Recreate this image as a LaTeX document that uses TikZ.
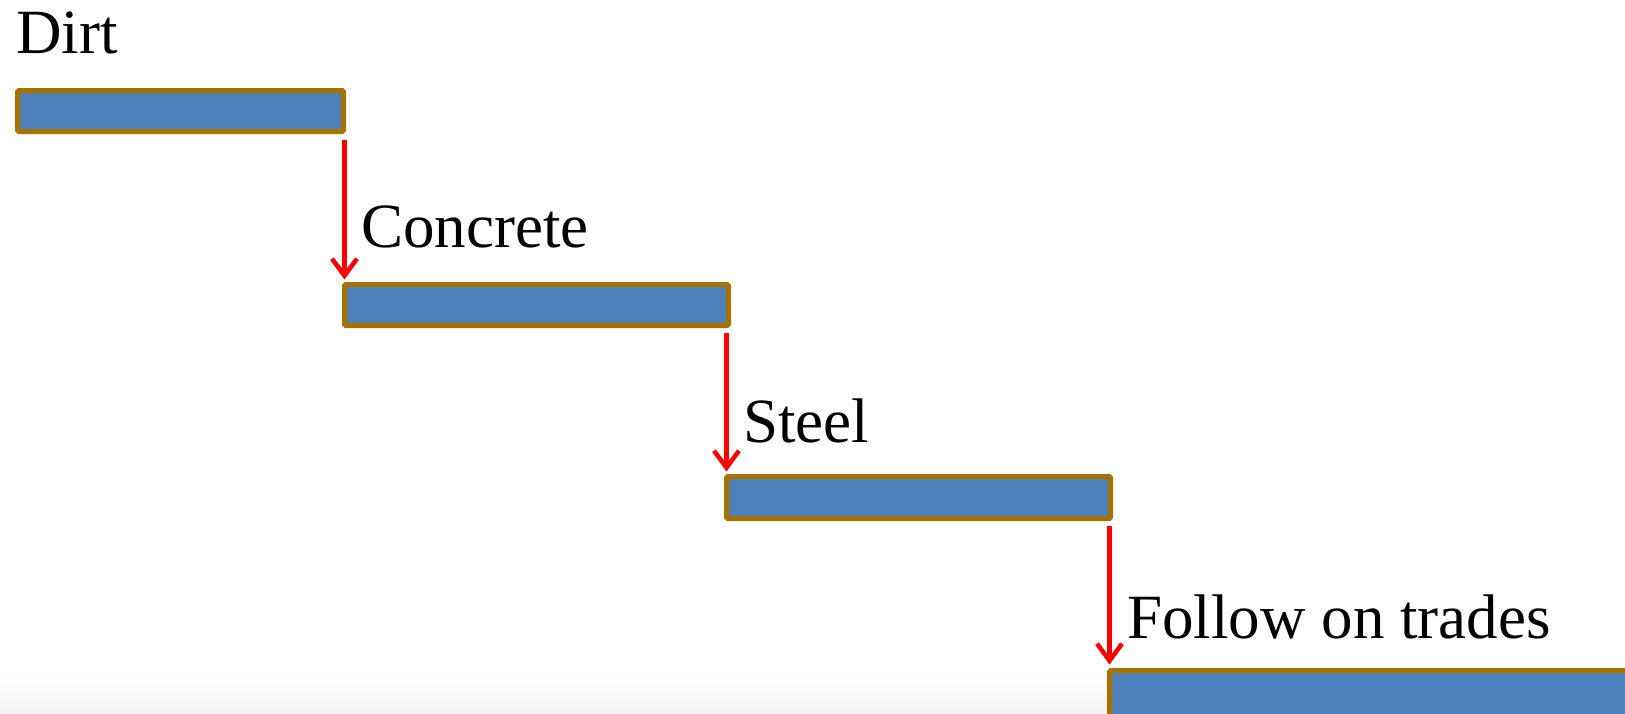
\documentclass[tikz,border=0pt]{standalone}
\usepackage{fontspec}
\setmainfont{Liberation Serif}
\usetikzlibrary{arrows.meta}
\definecolor{barblue}{RGB}{79,129,189}
\definecolor{bargold}{RGB}{168,114,0}
\definecolor{arrred}{RGB}{255,0,0}
\begin{document}
\begin{tikzpicture}[x=1pt,y=1pt,
  taskbar/.style={draw=bargold, fill=barblue, line width=5pt, rounded corners=1.5pt,
    rectangle, outer sep=0pt, inner sep=0pt, anchor=north west},
  tasklabel/.style={anchor=base west, inner sep=0pt, text=black,
    font=\fontsize{63}{72}\selectfont},
  link/.style={draw=arrred, line width=4.5pt,
    -{Straight Barb[length=17pt,width=25pt,line width=4.5pt]}}]
  \useasboundingbox (0,0) rectangle (1625,-713);
  \clip (0,0) rectangle (1625,-713);
  % faint shading along the lower edge
  \shade[top color=white, bottom color=black!5] (0,-676) rectangle (1625,-713);

  % schedule bars
  \node[taskbar, minimum width=326pt, minimum height=41pt] (dirt) at (17.5,-90.5) {};
  \node[taskbar, minimum width=384pt, minimum height=41pt] (conc) at (344.5,-284.5) {};
  \node[taskbar, minimum width=384pt, minimum height=42pt] (steel) at (726.5,-476.5) {};
  \node[taskbar, minimum width=600pt, minimum height=80pt] (trades) at (1109.5,-670.5) {};

  % bar labels
  \node[tasklabel] (ldirt) at (16,-53) {Dirt};
  \node[tasklabel] (lconc) at (361,-247) {Concrete};
  \node[tasklabel] (lsteel) at (743,-442) {Steel};
  \node[tasklabel] (ltrades) at (1127,-638) {Follow on trades};

  % finish-to-start links
  \draw[link] ([yshift=-8pt]dirt.south -| conc.north west) -- ([yshift=5pt]conc.north west);
  \draw[link] ([yshift=-7.5pt]conc.south -| steel.north west) -- ([yshift=5pt]steel.north west);
  \draw[link] ([yshift=-7pt]steel.south -| trades.north west) -- ([yshift=6pt]trades.north west);
\end{tikzpicture}
\end{document}
